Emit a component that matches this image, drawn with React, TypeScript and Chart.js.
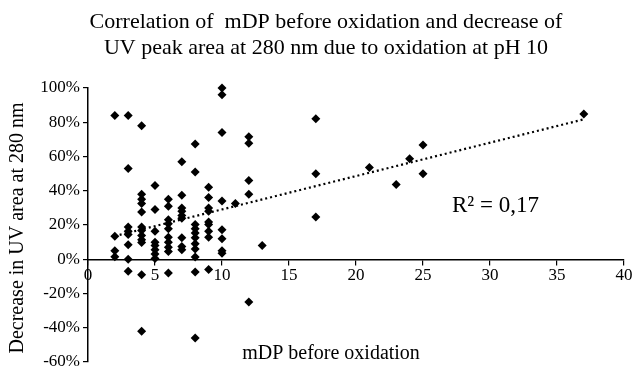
import React, { useEffect, useRef } from "react";
import { Chart, registerables } from "chart.js";

Chart.register(...registerables);

const titleLines = [
  "Correlation of  mDP before oxidation and decrease of",
  "UV peak area at 280 nm due to oxidation at pH 10",
];
const xTitle = "mDP before oxidation";
const yTitle = "Decrease in UV area at 280 nm";
const r2Label = "R\u00B2 = 0,17";

// mDP values (x) and decrease in UV area in % (y)
const mdp: number[] = [
  2, 2, 2, 2,
  3, 3, 3, 3, 3, 3, 3, 3,
  4, 4, 4, 4, 4, 4, 4, 4, 4, 4, 4, 4,
  5, 5, 5, 5, 5, 5, 5, 5,
  6, 6, 6, 6, 6, 6, 6, 6, 6, 6,
  7, 7, 7, 7, 7, 7, 7, 7, 7,
  8, 8, 8, 8, 8, 8, 8, 8, 8, 8, 8,
  9, 9, 9, 9, 9, 9, 9, 9, 9,
  10, 10, 10, 10, 10, 10, 10, 10,
  11,
  12, 12, 12, 12, 12,
  13,
  17, 17, 17,
  21, 23, 24, 25, 25, 37,
];
const decrease: number[] = [
  84, 13.5, 5, 1.5,
  84, 53, 18.8, 16.4, 14.5, 8.5, 0, -7,
  78, 38, 35, 32.5, 27.6, 18.8, 16.8, 13.9, 11.4, 9.8, -9, -42,
  43, 29, 16.4, 10, 8, 5.5, 3, 0.5,
  35, 31, 23, 20.7, 17.8, 12.9, 10, 7, 4.5, -8,
  57, 37.4, 30, 28, 25.6, 24, 12.5, 7.5, 5.5,
  67.3, 51, 20.3, 17.8, 15.3, 12.5, 9, 6, 1.3, -7.5, -46,
  42, 36, 30, 28, 21.7, 20.3, 16.4, 12.9, -6,
  100, 96, 74, 34, 17.2, 11.9, 5, 3.5,
  32.5,
  71.6, 67.7, 46, 38, -25,
  8,
  82, 50, 24.7,
  53.6, 43.7, 58.7, 66.7, 50, 84.8,
];

// linear trend line end points
const trendX: number[] = [2, 37];
const trendY: number[] = [13.5, 81.7];

const xTicks = { min: 0, max: 40, step: 5 };
const yTicks = { min: -60, max: 100, step: 20 };

const FONT = "'Liberation Serif', 'Times New Roman', serif";

export default function App() {
  const ref = useRef<HTMLCanvasElement | null>(null);

  useEffect(() => {
    if (!ref.current) return;
    const textPlugin = {
      id: "texts",
      afterDraw(chart: any) {
        const ctx = chart.ctx;
        ctx.save();
        ctx.fillStyle = "#000";
        ctx.textAlign = "center";
        ctx.textBaseline = "middle";
        ctx.font = `22px ${FONT}`;
        ctx.fillText(titleLines[0], 326, 22);
        ctx.fillText(titleLines[1], 326, 48);
        ctx.font = `20px ${FONT}`;
        ctx.fillText(xTitle, 331, 354);
        ctx.font = `23px ${FONT}`;
        ctx.textAlign = "left";
        ctx.fillText(r2Label, 452, 206);
        ctx.translate(18, 228);
        ctx.rotate(-Math.PI / 2);
        ctx.textAlign = "center";
        ctx.font = `20px ${FONT}`;
        ctx.fillText(yTitle, 0, 0);
        ctx.restore();
      },
    };

    const chart = new Chart(ref.current, {
      type: "scatter",
      data: {
        datasets: [
          {
            type: "scatter",
            data: mdp.map((x, i) => ({ x, y: decrease[i] })),
            pointStyle: "rectRot",
            pointRadius: 4.5,
            backgroundColor: "#000",
            borderColor: "#000",
            borderWidth: 0,
            clip: false,
          } as any,
          {
            type: "line",
            data: trendX.map((x, i) => ({ x, y: trendY[i] })),
            borderColor: "#000",
            borderWidth: 2.2,
            borderDash: [2, 3],
            pointRadius: 0,
            fill: false,
          } as any,
        ],
      },
      options: {
        animation: false,
        responsive: false,
        maintainAspectRatio: false,
        layout: { padding: { top: 88, right: 16, bottom: 5, left: 0 } },
        plugins: {
          legend: { display: false },
          title: { display: false },
          tooltip: { enabled: false },
        },
        scales: {
          x: {
            type: "linear",
            position: { y: 0 } as any,
            min: xTicks.min,
            max: xTicks.max,
            ticks: {
              stepSize: xTicks.step,
              color: "#000",
              font: { family: FONT, size: 17 },
              padding: 1,
              maxRotation: 0,
            },
            grid: {
              drawOnChartArea: false,
              drawTicks: true,
              tickLength: 5,
              color: "#000",
              lineWidth: 1.2,
            },
            border: { color: "#000", width: 1.5 },
          },
          y: {
            type: "linear",
            position: "left",
            min: yTicks.min,
            max: yTicks.max,
            afterFit: (s: any) => {
              s.width = 88;
              s.paddingTop = 0;
              s.paddingBottom = 0;
            },
            ticks: {
              stepSize: yTicks.step,
              color: "#000",
              font: { family: FONT, size: 17 },
              padding: 3,
              callback: (v: any) => `${v}%`,
            },
            grid: {
              drawOnChartArea: false,
              drawTicks: true,
              tickLength: 5,
              color: "#000",
              lineWidth: 1.2,
            },
            border: { color: "#000", width: 1.5 },
          },
        },
      },
      plugins: [textPlugin],
    });
    return () => chart.destroy();
  }, []);

  return (
    <div style={{ position: "fixed", left: 0, top: 0, width: 640, height: 367, background: "#fff" }}>
      <canvas ref={ref} width={640} height={367} style={{ width: 640, height: 367 }} />
    </div>
  );
}
